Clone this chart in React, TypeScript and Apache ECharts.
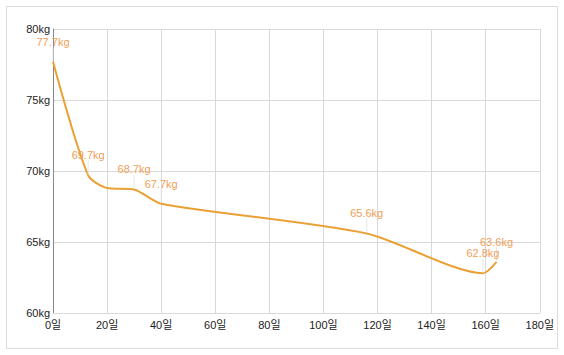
import React, { useEffect, useRef } from "react";
import * as echarts from "echarts";

const days = [0, 13, 20, 30, 40, 116, 159, 164];
const weights = [77.7, 69.7, 68.8, 68.7, 67.7, 65.6, 62.8, 63.6];
const showLabel = [true, true, false, true, true, true, true, true];
const xTicks = { min: 0, max: 180, interval: 20, unit: "일" };
const yTicks = { min: 60, max: 80, interval: 5, unit: "kg" };

const FONT = 'Arial, "Liberation Sans", "Noto Sans CJK KR", sans-serif';

export default function App() {
  const ref = useRef<HTMLDivElement>(null);
  useEffect(() => {
    if (!ref.current) return;
    const chart = echarts.init(ref.current, undefined, { renderer: "svg" });
    chart.setOption({
      animation: false,
      grid: { left: 46, top: 22, width: 487, height: 284 },
      xAxis: {
        type: "value",
        min: xTicks.min,
        max: xTicks.max,
        interval: xTicks.interval,
        axisLine: { show: true, onZero: false, lineStyle: { color: "#d9d9d9" } },
        axisTick: { show: false },
        splitLine: { show: true, lineStyle: { color: "#d9d9d9" } },
        axisLabel: {
          formatter: "{value}" + xTicks.unit,
          color: "#222",
          fontSize: 11,
          fontFamily: FONT,
          margin: 6,
        },
      },
      yAxis: {
        type: "value",
        min: yTicks.min,
        max: yTicks.max,
        interval: yTicks.interval,
        axisLine: { show: true, lineStyle: { color: "#888" } },
        axisTick: { show: false },
        splitLine: { show: true, lineStyle: { color: "#d9d9d9" } },
        axisLabel: {
          formatter: "{value}" + yTicks.unit,
          color: "#222",
          fontSize: 11,
          fontFamily: FONT,
          margin: 3,
        },
      },
      series: [
        {
          type: "line",
          smooth: 0.25,
          symbol: "circle",
          symbolSize: 1,
          showSymbol: true,
          lineStyle: { color: "#EBA035", width: 2 },
          itemStyle: { color: "rgba(0,0,0,0)" },
          data: days.map((d, i) => ({
            value: [d, weights[i]],
            label: { show: showLabel[i] },
          })),
          label: {
            show: true,
            position: "top",
            distance: 5,
            color: "#EFA056",
            fontSize: 11,
            fontFamily: FONT,
            formatter: (p: any) => p.value[1].toFixed(1) + "kg",
          },
          labelLayout: { dy: -9 },
          labelLine: { show: true, lineStyle: { color: "#e6e6e6", width: 1 } },
        },
      ],
    });
    return () => chart.dispose();
  }, []);
  return (
    <div
      style={{
        position: "absolute",
        left: 6,
        top: 6,
        width: 552,
        height: 343,
        boxSizing: "border-box",
        border: "1px solid #dcdcdc",
        background: "#fff",
      }}
    >
      <div ref={ref} style={{ width: 550, height: 341 }} />
    </div>
  );
}
